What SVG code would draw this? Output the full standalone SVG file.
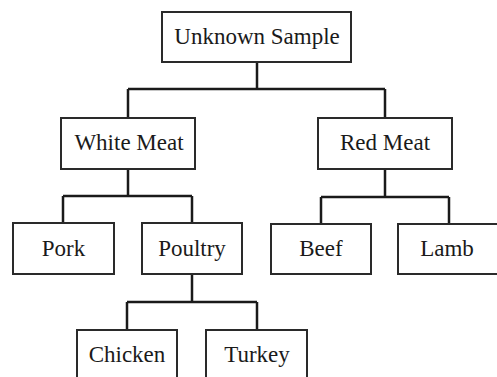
<svg xmlns="http://www.w3.org/2000/svg" width="497" height="377" viewBox="0 0 497 377">
<style>
.box{fill:#fff;stroke:#2a2a2a;stroke-width:2}
.lbl{font-family:"Liberation Serif","Times New Roman",serif;font-size:23px;fill:#1a1a1a;text-anchor:middle}
.conn{fill:none;stroke:#1a1a1a;stroke-width:2.5}
</style>
<rect width="497" height="377" fill="#fff"/>
<g id="connectors" class="conn">
<path d="M257 62V89M128 89H385M128 89V118M385 89V118"/>
<path d="M128 169V196M63 196H192M63 196V223M192 196V223"/>
<path d="M385 169V197M321 197H449M321 197V224M449 197V224"/>
<path d="M192 274V302M127 302H257M127 302V330M257 302V330"/>
</g>
<g id="unknown-sample"><rect class="box" x="162" y="12" width="189" height="50"/><text class="lbl" x="257" y="44">Unknown Sample</text></g>
<g id="white-meat"><rect class="box" x="61" y="118" width="134" height="51"/><text class="lbl" x="129" y="150">White Meat</text></g>
<g id="red-meat"><rect class="box" x="318" y="118" width="134" height="51"/><text class="lbl" x="385" y="150">Red Meat</text></g>
<g id="pork"><rect class="box" x="13" y="223" width="101" height="51"/><text class="lbl" x="63.5" y="256">Pork</text></g>
<g id="poultry"><rect class="box" x="142" y="223" width="100" height="51"/><text class="lbl" x="192" y="256">Poultry</text></g>
<g id="beef"><rect class="box" x="271" y="224" width="100" height="50"/><text class="lbl" x="321" y="256">Beef</text></g>
<g id="lamb"><rect class="box" x="398" y="224" width="102" height="50"/><text class="lbl" x="447" y="256">Lamb</text></g>
<g id="chicken"><rect class="box" x="77" y="330" width="100" height="60"/><text class="lbl" x="127" y="362">Chicken</text></g>
<g id="turkey"><rect class="box" x="206" y="330" width="101" height="60"/><text class="lbl" x="257" y="362">Turkey</text></g>
</svg>
